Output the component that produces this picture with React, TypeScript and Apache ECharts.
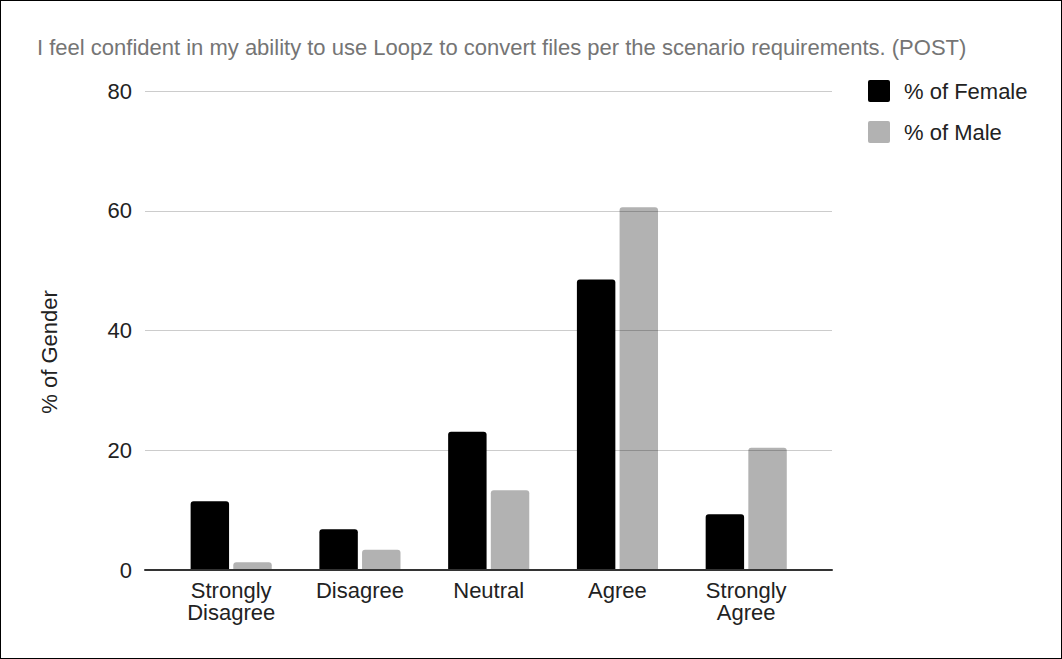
import React, { useEffect, useRef } from "react";
import * as echarts from "echarts";

const categories = ["Strongly\nDisagree", "Disagree", "Neutral", "Agree", "Strongly\nAgree"];
const femaleValues = [11.5, 6.8, 23.1, 48.5, 9.3];
const maleValues = [1.3, 3.4, 13.3, 60.6, 20.4];
const seriesNames = ["% of Female", "% of Male"];
const titleText = "I feel confident in my ability to use Loopz to convert files per the scenario requirements. (POST)";
const yAxisName = "% of Gender";

const iconPath =
  "path://M2,0 H20 A2,2 0 0 1 22,2 V20 A2,2 0 0 1 20,22 H2 A2,2 0 0 1 0,20 V2 A2,2 0 0 1 2,0 Z";

export default function App() {
  const ref = useRef<HTMLDivElement>(null);
  useEffect(() => {
    if (!ref.current) return;
    const chart = echarts.init(ref.current, undefined, { renderer: "svg" });
    const font = "Liberation Sans, Arial, sans-serif";
    const fs = 22;
    chart.setOption({
      animation: false,
      textStyle: { fontFamily: font },
      title: {
        text: titleText,
        left: 37,
        top: 36,
        padding: 0,
        textStyle: { fontSize: fs, fontWeight: "normal", color: "#757575", fontFamily: font },
      },
      legend: {
        orient: "vertical",
        left: 868,
        top: 80,
        padding: 0,
        itemWidth: 22,
        itemHeight: 22,
        itemGap: 19,
        icon: iconPath,
        textStyle: { fontSize: fs, color: "#222", fontFamily: font, padding: [0, 0, 0, 9] },
        data: seriesNames,
      },
      graphic: [
        {
          type: "text",
          x: 49,
          y: 352,
          rotation: Math.PI / 2,
          style: {
            text: yAxisName,
            fontSize: fs,
            fontFamily: font,
            fill: "#222",
            align: "center",
            verticalAlign: "middle",
          },
        },
      ],
      grid: [
        { left: 145, right: 230, top: 91, bottom: 89, containLabel: false },
        { left: 166.8, right: 251.4, top: 91, bottom: 89, containLabel: false },
      ],
      xAxis: [
        {
          gridIndex: 0,
          type: "value",
          min: 0,
          max: 1,
          axisLabel: { show: false },
          axisTick: { show: false },
          splitLine: { show: false },
          axisLine: { lineStyle: { color: "#333", width: 2 } },
          z: 4,
        },
        {
          gridIndex: 1,
          type: "category",
          data: categories,
          axisTick: { show: false },
          axisLine: { show: false },
          axisLabel: { fontSize: fs, color: "#222", lineHeight: 22, margin: 9, fontFamily: font },
        },
      ],
      yAxis: [
        {
          gridIndex: 0,
          type: "value",
          min: 0,
          max: 80,
          interval: 20,
          axisLabel: { fontSize: fs, color: "#222", margin: 13, fontFamily: font },
          splitLine: { lineStyle: { color: "rgba(0,0,0,0.2)", width: 1 } },
          axisLine: { show: false },
          axisTick: { show: false },
          z: 3,
        },
        {
          gridIndex: 1,
          type: "value",
          min: 0,
          max: 80,
          interval: 20,
          show: false,
          splitLine: { show: false },
        },
      ],
      series: [
        {
          name: seriesNames[0],
          type: "bar",
          xAxisIndex: 1,
          yAxisIndex: 1,
          data: femaleValues,
          itemStyle: { color: "#000000", borderRadius: [3, 3, 0, 0] },
          barGap: "11%",
          barCategoryGap: "37%",
        },
        {
          name: seriesNames[1],
          type: "bar",
          xAxisIndex: 1,
          yAxisIndex: 1,
          data: maleValues,
          itemStyle: { color: "#b2b2b2", borderRadius: [3, 3, 0, 0] },
          barGap: "11%",
          barCategoryGap: "37%",
        },
      ],
    });
    return () => chart.dispose();
  }, []);
  return (
    <div
      style={{
        position: "fixed",
        left: 0,
        top: 0,
        width: 1062,
        height: 659,
        boxSizing: "border-box",
        border: "1px solid #000",
        background: "#fff",
        overflow: "hidden",
      }}
    >
      <div ref={ref} style={{ position: "absolute", left: -1, top: -1, width: 1062, height: 659 }} />
    </div>
  );
}
